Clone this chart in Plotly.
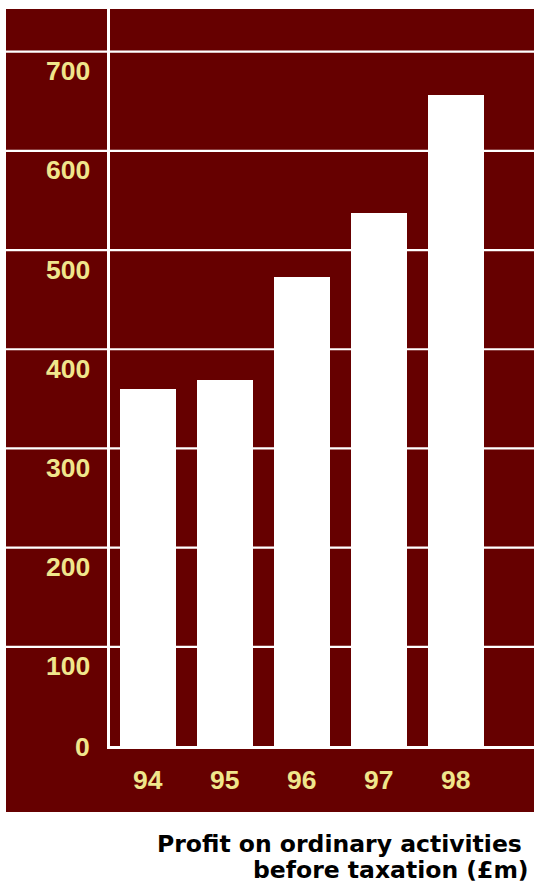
import plotly.graph_objects as go

# Profit on ordinary activities before taxation, £m
years = ["94", "95", "96", "97", "98"]
profit = [360, 369, 473, 537, 656]
y_ticks = [0, 100, 200, 300, 400, 500, 600, 700]

MAROON = "#660000"
KHAKI = "#f0e68c"
W, H = 534, 886
ML, MT, MB = 110, 9, 140
plot_w = W - ML
plot_h = H - MT - MB

x_pos = list(range(len(years)))

fig = go.Figure(
    go.Bar(
        x=x_pos,
        y=profit,
        width=0.728,
        marker=dict(color="white", line=dict(width=0)),
        hoverinfo="skip",
    )
)

shapes = [
    # maroon panel behind the chart and its labels
    dict(
        type="rect", xref="paper", yref="paper",
        x0=(6 - ML) / plot_w, x1=1.0,
        y0=-(812 - (H - MB)) / plot_h, y1=1.0,
        fillcolor=MAROON, line=dict(width=0), layer="below",
    )
]
# gridlines run across the label column as well
for v in y_ticks[1:]:
    shapes.append(
        dict(
            type="line", xref="paper", yref="y",
            x0=(6 - ML) / plot_w, x1=1.0, y0=v, y1=v,
            line=dict(color="white", width=2.2), layer="below",
        )
    )

label_font = dict(family="Liberation Sans, Arial, sans-serif", size=26.5,
                  color=KHAKI, weight="bold")

annotations = []
for v in y_ticks:
    annotations.append(
        dict(
            text=str(v), xref="paper", yref="y",
            x=(92 - ML) / plot_w, y=v,
            xanchor="right", yanchor="middle",
            yshift=-19.5 if v > 0 else -0.5,
            showarrow=False, font=label_font,
        )
    )
for i, yr in enumerate(years):
    annotations.append(
        dict(
            text=yr, xref="x", yref="paper", x=x_pos[i], y=0,
            xanchor="center", yanchor="middle", yshift=-34,
            showarrow=False, font=label_font,
        )
    )

title_font = dict(family="DejaVu Sans, sans-serif", size=23.5,
                  color="black", weight="bold")
annotations.append(
    dict(text="Profit on ordinary activities", xref="paper", yref="paper",
         x=1, y=0, xanchor="right", yanchor="middle", xshift=-10, yshift=-98,
         showarrow=False, font=title_font)
)
annotations.append(
    dict(text="before taxation (£m)", xref="paper", yref="paper",
         x=1, y=0, xanchor="right", yanchor="middle", xshift=-3, yshift=-124,
         showarrow=False, font=title_font)
)

fig.update_layout(
    width=W, height=H,
    margin=dict(l=ML, r=0, t=MT, b=MB, pad=0),
    paper_bgcolor="white",
    plot_bgcolor=MAROON,
    showlegend=False,
    bargap=0,
    shapes=shapes,
    annotations=annotations,
    xaxis=dict(
        range=[-0.494, 5.02], showgrid=False, zeroline=False,
        showticklabels=False, ticks="", showline=True,
        linecolor="white", linewidth=3, fixedrange=True,
    ),
    yaxis=dict(
        range=[0, 743], showgrid=False, zeroline=False,
        showticklabels=False, ticks="", showline=True,
        linecolor="white", linewidth=3, fixedrange=True,
    ),
)

fig.write_html("out.html", config={"displayModeBar": False})
